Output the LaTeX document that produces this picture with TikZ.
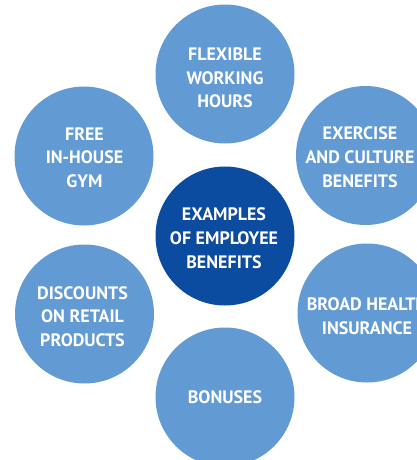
\documentclass[tikz,border=0pt]{standalone}
\usepackage{fontspec}
\setmainfont{PT Sans}
\definecolor{lightblue}{RGB}{98,155,211}
\definecolor{darkblue}{RGB}{11,75,160}
\begin{document}
\begin{tikzpicture}[x=1pt,y=-1pt,
  bubble/.style={circle,minimum size=139pt,inner sep=0pt,fill=lightblue},
  hub/.style={bubble,fill=darkblue},
  caption/.style={text=white,align=center,inner sep=0pt,
    font=\bfseries\fontsize{18}{23.7}\selectfont}]
\useasboundingbox (0,0) rectangle (417,460);
\clip (0,0) rectangle (417,460);
\node[hub]    (center) at (225,236)     {};
\node[bubble] (flex)   at (225,74)      {};
\node[bubble] (exer)   at (365.5,155.5) {};
\node[bubble] (health) at (367,313)     {};
\node[bubble] (bonus)  at (225,397)     {};
\node[bubble] (disc)   at (84.5,314)    {};
\node[bubble] (gym)    at (84,156)      {};
\node[caption] (centertext) at (224,238)   {EXAMPLES\\OF EMPLOYEE\\BENEFITS};
\node[caption] (flextext)   at (225,78)    {FLEXIBLE\\WORKING\\HOURS};
\node[caption] (exertext)   at (360,157)   {EXERCISE\\AND CULTURE\\BENEFITS};
\node[caption] (healthtext) at (367,316)   {BROAD HEALTH\\INSURANCE};
\node[caption] (bonustext)  at (225,397.5) {BONUSES};
\node[caption] (disctext)   at (82.5,316.5){DISCOUNTS\\ON RETAIL\\PRODUCTS};
\node[caption] (gymtext)    at (84.5,157.5){FREE\\IN-HOUSE\\GYM};
\end{tikzpicture}
\end{document}
